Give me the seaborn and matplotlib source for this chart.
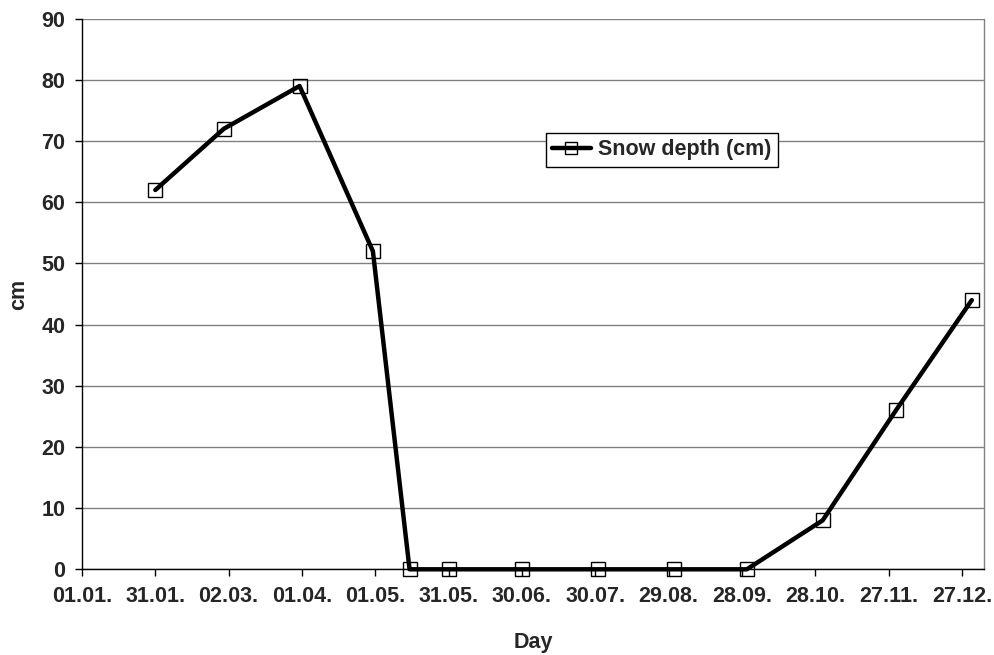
import matplotlib
matplotlib.use("Agg")
import matplotlib.pyplot as plt
import seaborn as sns
import pandas as pd

# Data (day of year, snow depth in cm)
days = [31, 59, 90, 120, 135, 151, 181, 212, 243, 273, 304, 334, 365]
depth = [62, 72, 79, 52, 0, 0, 0, 0, 0, 0, 8, 26, 44]
tick_days = [1, 31, 61, 91, 121, 151, 181, 211, 241, 271, 301, 331, 361]
tick_labels = ["01.01.", "31.01.", "02.03.", "01.04.", "01.05.", "31.05.",
               "30.06.", "30.07.", "29.08.", "28.09.", "28.10.", "27.11.", "27.12."]
y_ticks = [0, 10, 20, 30, 40, 50, 60, 70, 80, 90]
series_name = "Snow depth (cm)"

df = pd.DataFrame({"Day": days, "cm": depth})

sns.set_theme(style="white")
plt.rcParams["font.family"] = ["Liberation Sans", "DejaVu Sans"]
plt.rcParams["font.weight"] = "bold"

FS = 15.5

fig = plt.figure(figsize=(9.94, 6.55), dpi=100)
ax = fig.add_axes([82 / 994, 1 - 569.3 / 655, (984 - 82) / 994, (569.3 - 18.7) / 655])

sns.lineplot(data=df, x="Day", y="cm", ax=ax, color="black", linewidth=3.2,
             marker="s", markersize=10.5, markerfacecolor="none",
             markeredgecolor="black", markeredgewidth=1.0, label=series_name,
             clip_on=False, zorder=5)

ax.set_xlim(1, 370)
ax.set_ylim(0, 90)
ax.set_xticks(tick_days)
ax.set_xticklabels(tick_labels)
ax.set_yticks(y_ticks)

ax.yaxis.grid(True, color="#808080", linewidth=1.0)
ax.xaxis.grid(False)
ax.set_axisbelow(True)

for side in ["left", "bottom"]:
    ax.spines[side].set_color("black")
    ax.spines[side].set_linewidth(1.0)
ax.spines["right"].set_color("#808080")
ax.spines["right"].set_linewidth(1.0)
ax.spines["top"].set_visible(False)

ax.tick_params(axis="both", which="major", direction="out", length=5, width=1,
               color="black", labelsize=FS, pad=7, bottom=True, left=True)
for lab in ax.get_xticklabels() + ax.get_yticklabels():
    lab.set_fontweight("bold")

ax.set_xlabel("Day", fontsize=FS, fontweight="bold", labelpad=18)
ax.set_ylabel("cm", fontsize=FS, fontweight="bold", labelpad=9)

leg = ax.legend(loc="upper left", bbox_to_anchor=(0.514, 0.793), borderaxespad=0,
                frameon=True, fancybox=False, framealpha=1, edgecolor="black",
                prop={"weight": "bold", "size": FS}, handlelength=1.8,
                handletextpad=0.35, borderpad=0.3, markerscale=0.8)
leg.get_frame().set_linewidth(1.0)

fig.savefig("out.png", dpi=100, facecolor="white")
